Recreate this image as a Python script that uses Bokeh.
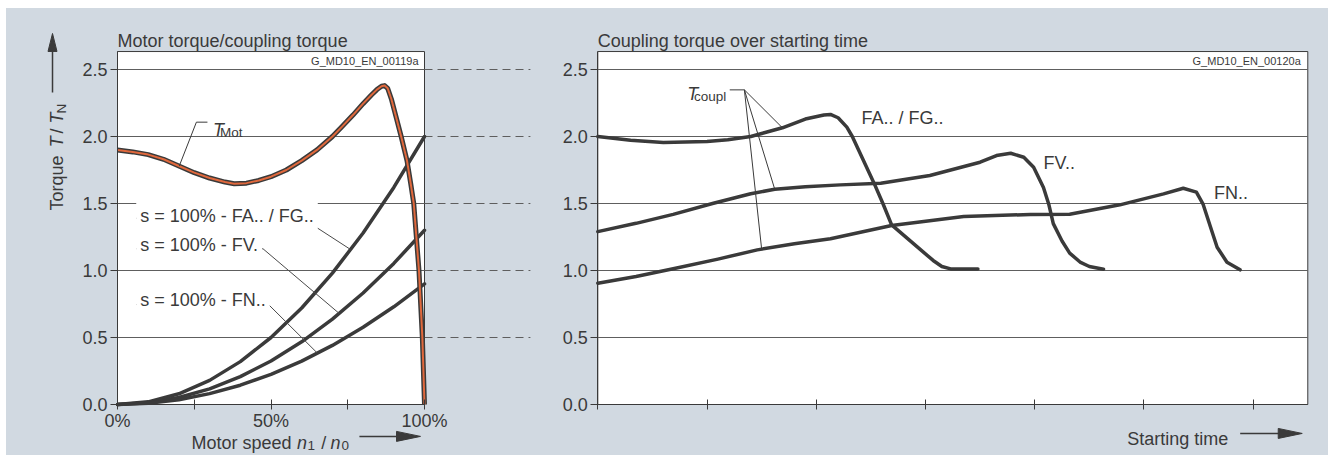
import numpy as np
from bokeh.plotting import figure
from bokeh.models import Label, FixedTicker, Range1d, PrintfTickFormatter, Spacer
from bokeh.layouts import row, column
from bokeh.embed import file_html
from bokeh.resources import INLINE

BG = "#d1d9e1"
INK = "#3a3a3a"
GRID = "#5e5e5e"
ORANGE = "#e0683c"
FONT = "Liberation Sans"

# ---------------- data: left panel (motor speed in %, torque T/T_N) ----------------
mot_speed = [0, 5, 10, 15, 20, 25, 30, 35, 38, 42, 46, 50, 55, 60, 65, 70, 73, 76.7, 80, 82.7,
             84.5, 86, 87, 88, 89.2, 90.8, 92.4, 94.3, 95.5, 96.5, 98.2, 99.3, 100]
mot_torque = [1.90, 1.885, 1.865, 1.83, 1.78, 1.73, 1.69, 1.66, 1.648, 1.652, 1.672, 1.70, 1.75, 1.82, 1.90, 2.0, 2.07, 2.16, 2.245, 2.31,
              2.35, 2.375, 2.38, 2.36, 2.28, 2.14, 2.0, 1.82, 1.65, 1.5, 1.0, 0.5, 0.0]

cpl_speed = [0, 10, 20, 30, 40, 50, 60, 70, 80, 90, 100]
cpl_fa = [0.0, 0.02, 0.08, 0.18, 0.32, 0.50, 0.72, 0.98, 1.28, 1.62, 2.0]
cpl_fv = [0.0, 0.013, 0.052, 0.117, 0.208, 0.325, 0.468, 0.637, 0.832, 1.053, 1.3]
cpl_fn = [0.0, 0.009, 0.036, 0.081, 0.144, 0.225, 0.324, 0.441, 0.576, 0.729, 0.9]

speed_ticks = [0, 25, 50, 75, 100]
speed_labels = {0: "0%", 25: "", 50: "50%", 75: "", 100: "100%"}
torque_ticks = [0.0, 0.5, 1.0, 1.5, 2.0, 2.5]
grid_levels = [0.5, 1.0, 1.5, 2.0, 2.5]

# ---------------- data: right panel (starting time, coupling torque) ----------------
time_fa = [0, 0.3, 0.6, 1.0, 1.19, 1.4, 1.69, 1.9, 2.07, 2.13, 2.2, 2.28, 2.33, 2.53, 2.61, 2.69, 2.89, 3.07, 3.15, 3.23, 3.48]
torque_fa = [2.0, 1.972, 1.955, 1.963, 1.975, 2.0, 2.065, 2.13, 2.16, 2.165, 2.14, 2.07, 2.0, 1.65, 1.5, 1.34, 1.2, 1.075, 1.03, 1.012, 1.012]

time_fv = [0, 0.35, 0.69, 1.05, 1.4, 1.62, 1.9, 2.22, 2.59, 3.04, 3.5, 3.65, 3.78, 3.9, 3.99, 4.08, 4.13, 4.17, 4.25, 4.32, 4.42, 4.5, 4.63]
torque_fv = [1.29, 1.352, 1.419, 1.50, 1.573, 1.606, 1.625, 1.639, 1.651, 1.709, 1.808, 1.858, 1.875, 1.845, 1.77, 1.62, 1.49, 1.35, 1.22, 1.13, 1.06, 1.03, 1.01]

time_fn = [0, 0.35, 0.69, 1.1, 1.46, 1.8, 2.13, 2.69, 3.35, 3.96, 4.32, 4.78, 5.18, 5.36, 5.48, 5.54, 5.61, 5.67, 5.76, 5.88]
torque_fn = [0.905, 0.955, 1.013, 1.085, 1.154, 1.20, 1.237, 1.336, 1.403, 1.418, 1.42, 1.49, 1.572, 1.614, 1.585, 1.498, 1.323, 1.174, 1.062, 1.005]

time_ticks = [0, 1, 2, 3, 4, 5, 6]

# ---------------- layout geometry (pixels) ----------------
H = 447                 # figure height (grey area)
Y_TOP = 2.634           # top of the plot box in torque units
KY = 134.0              # px per torque unit
Y0_PX = 396             # y of torque 0 inside the figure (from top)
W1, KX1, X0_1 = 547, 3.07, 111      # left figure width, px per %, x of 0 % in figure
W2, KX2, X0_2 = 775, 109.23, 44.3   # right figure width, px per time unit, x of t=0

HAS_PAD = "padding" in Label.properties()


def lab(p, x, y, text, size="18px", style="normal", align="left", baseline="alphabetic",
        angle=0.0, color=INK, bg=None, **kw):
    extra = {}
    if bg is not None:
        extra["background_fill_color"] = bg
        if HAS_PAD:
            extra["padding"] = 4
    l = Label(x=x, y=y, text=text, text_font=FONT, text_font_size=size, text_font_style=style,
              text_color=color, text_align=align, text_baseline=baseline, angle=angle, **extra, **kw)
    p.add_layout(l)
    return l


def make_panel(width, kx, x0px, x_right, title):
    xr = Range1d(-x0px / kx, (width - x0px) / kx)
    yr = Range1d(-(H - Y0_PX) / KY, Y0_PX / KY)
    p = figure(width=width, height=H, x_range=xr, y_range=yr, output_backend="svg",
               toolbar_location=None, min_border=0, title=None)
    p.background_fill_color = BG
    p.border_fill_color = BG
    p.outline_line_color = None
    p.grid.visible = False
    # white plot box with outline
    p.quad(left=0, right=x_right, bottom=0, top=Y_TOP, fill_color="white", line_color=INK, line_width=1)
    # horizontal grid lines inside the box
    p.segment(x0=[0] * len(grid_levels), y0=grid_levels, x1=[x_right] * len(grid_levels), y1=grid_levels,
              line_color=GRID, line_width=1)
    for ax in (p.xaxis[0], p.yaxis[0]):
        ax.fixed_location = 0
        ax.axis_line_color = INK
        ax.major_tick_line_color = INK
        ax.minor_tick_line_color = None
        ax.major_label_text_font = FONT
        ax.major_label_text_font_size = "18px"
        ax.major_label_text_color = INK
    p.yaxis.bounds = (0, Y_TOP)
    p.xaxis.bounds = (0, x_right)
    p.yaxis.ticker = FixedTicker(ticks=torque_ticks)
    p.yaxis.formatter = PrintfTickFormatter(format="%.1f")
    p.yaxis.major_tick_in = 0
    p.yaxis.major_tick_out = 7
    p.yaxis.major_label_standoff = 3
    p.xaxis.major_tick_in = 5
    p.xaxis.major_tick_out = 5
    p.xaxis.major_label_standoff = 1
    # panel title
    lab(p, 0, 2.709, title)
    return p


def arrow(p, x0, y0, x1, y1, kx, ky, head_len=22, head_w=10):
    """shaft + slim filled head; head sizes in px converted with the panel scales"""
    if y0 == y1:
        hx, hy = head_len / kx, head_w / 2 / ky
        p.segment(x0, y0, x1 - 0.5 * hx, y1, line_color=INK, line_width=1.5)
        p.patch([x1 - hx, x1, x1 - hx], [y1 - hy, y1, y1 + hy], fill_color=INK, line_color=INK)
    else:
        hx, hy = head_w / 2 / kx, head_len / ky
        p.segment(x0, y0, x1, y1 - 0.5 * hy, line_color=INK, line_width=1.5)
        p.patch([x1 - hx, x1, x1 + hx], [y1 - hy, y1, y1 - hy], fill_color=INK, line_color=INK)


# ======================= LEFT PANEL =======================
p1 = make_panel(W1, KX1, X0_1, 100, "Motor torque/coupling torque")
p1.xaxis.ticker = FixedTicker(ticks=speed_ticks)
p1.xaxis.major_label_overrides = speed_labels

# dashed continuation of the grid lines to the right of the box
p1.segment(x0=[100] * len(grid_levels), y0=grid_levels, x1=[134.5] * len(grid_levels), y1=grid_levels,
           line_color=GRID, line_width=1, line_dash="8 5")

# coupling curves (slip 100 %)
for ys in (cpl_fa, cpl_fv, cpl_fn):
    p1.line(cpl_speed, ys, line_color=INK, line_width=3.5, line_join="round", line_cap="round")
# motor torque (dark outline + orange core)
p1.line(mot_speed, mot_torque, line_color=INK, line_width=5, line_join="round")
p1.line(mot_speed, mot_torque, line_color=ORANGE, line_width=2, line_join="round")

# T_Mot label + leader
xm = 20.1
p1.line([29.3, 25.7, xm], [2.107, 2.107, float(np.interp(xm, mot_speed, mot_torque))],
        line_color=INK, line_width=1)
lab(p1, 31.1, 2.045, "T", style="italic")
lab(p1, 33.4, 2.03, "Mot", size="13.5px")

# slip labels with underline leaders
slip_specs = [
    ("s = 100% - FA.. / FG..", 1.410, 1.390, 60.2, 75.9, cpl_fa),
    ("s = 100% - FV.", 1.194, 1.162, 47.4, 72.2, cpl_fv),
    ("s = 100% - FN..", 0.781, 0.746, 49.2, 65.1, cpl_fn),
]
for txt, ybase, yline, xknee, xend, curve in slip_specs:
    p1.line([6.1, xknee, xend], [yline, yline, float(np.interp(xend, cpl_speed, curve))],
            line_color="#4a4a4a", line_width=1)
    lab(p1, 6.1, ybase, txt, bg="white")

lab(p1, 100, 2.567, "G_MD10_EN_00119a", size="11px", align="right", baseline="middle", x_offset=-6)

# rotated y-axis title: Torque  T / T_N  with arrow
ang = np.pi / 2
lab(p1, -19.64, 1.448, "Torque", angle=ang)
lab(p1, -19.64, 1.920, "T", style="italic", angle=ang)
lab(p1, -19.64, 2.022, "/", angle=ang)
lab(p1, -19.64, 2.097, "T", style="italic", angle=ang)
lab(p1, -18.34, 2.172, "N", size="13.5px", angle=ang)
arrow(p1, -21.17, 2.328, -21.17, 2.769, KX1, KY, head_len=18, head_w=9)

# x-axis title: Motor speed n1 / n0  with arrow
yb = -0.288
lab(p1, 24.1, yb, "Motor speed")
lab(p1, 58.5, yb, "n", style="italic")
lab(p1, 61.9, yb - 0.02, "1", size="13.5px")
lab(p1, 66.4, yb, "/")
lab(p1, 69.4, yb, "n", style="italic")
lab(p1, 73.0, yb - 0.02, "0", size="13.5px")
arrow(p1, 78.8, yb + 0.05, 98.7, yb + 0.05, KX1, KY, head_len=24, head_w=10)

# ======================= RIGHT PANEL =======================
p2 = make_panel(W2, KX2, X0_2, 6.5, "Coupling torque over starting time")
p2.xaxis.ticker = FixedTicker(ticks=time_ticks)
p2.xaxis.major_label_overrides = {t: "" for t in time_ticks}

for ts, ys in ((time_fa, torque_fa), (time_fv, torque_fv), (time_fn, torque_fn)):
    p2.line(ts, ys, line_color=INK, line_width=3.5, line_join="round", line_cap="round")

# T_coupl label + leaders
lab(p2, 0.818, 2.318, "T", style="italic")
lab(p2, 0.880, 2.300, "coupl", size="13.5px")
hub_x, hub_y = 1.342, 2.348
p2.line([1.208, hub_x], [hub_y, hub_y], line_color=INK, line_width=1)
for xe, ts, ys in ((1.69, time_fa, torque_fa), (1.62, time_fv, torque_fv), (1.50, time_fn, torque_fn)):
    p2.line([hub_x, xe], [hub_y, float(np.interp(xe, ts, ys))], line_color=INK, line_width=1)

lab(p2, 2.414, 2.140, "FA.. / FG..")
lab(p2, 4.081, 1.800, "FV..")
lab(p2, 5.642, 1.577, "FN..")
lab(p2, 6.5, 2.56, "G_MD10_EN_00120a", size="11px", align="right", baseline="middle", x_offset=-7)

# x-axis title: Starting time with arrow
lab(p2, 4.846, -0.254, "Starting time")
arrow(p2, 5.881, -0.216, 6.449, -0.216, KX2, KY, head_len=24, head_w=10)

panels = row(p1, p2, styles={"background-color": BG})
layout = column(Spacer(width=1330, height=8), row(Spacer(width=6, height=H), panels))
open("out.html", "w").write(file_html(layout, INLINE))
